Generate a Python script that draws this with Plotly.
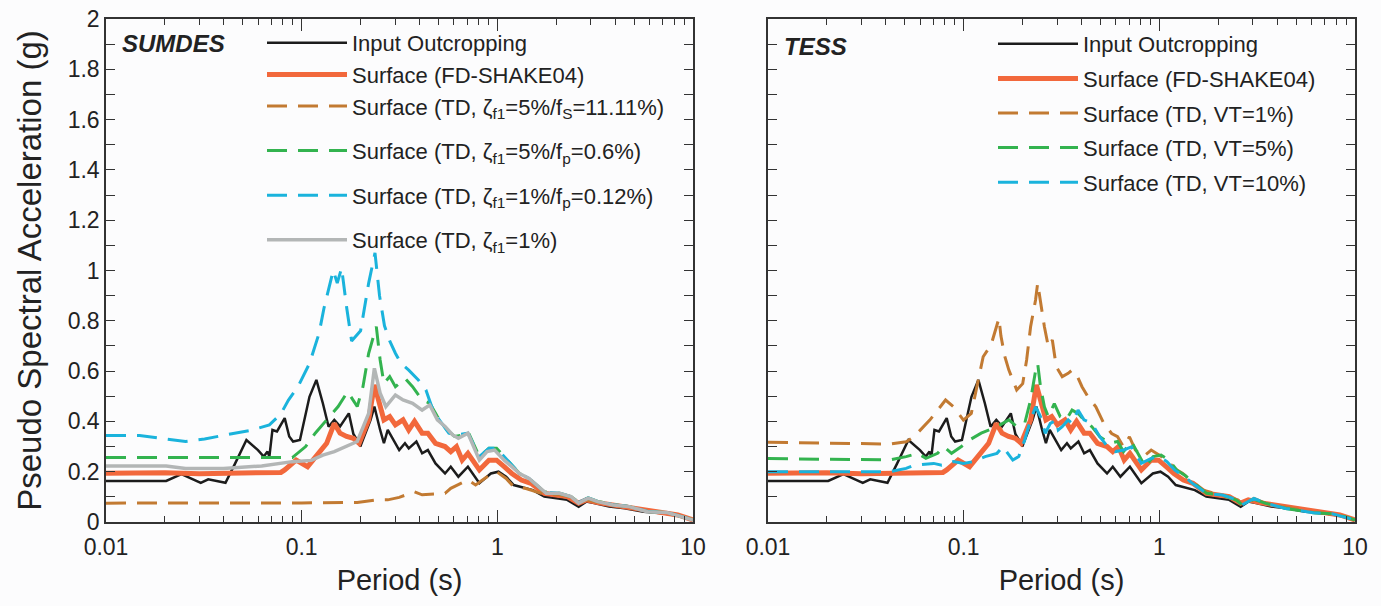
import plotly.graph_objects as go

# ---------------- data (period in s, PSA in g) ----------------
T_input = [0.01, 0.0203, 0.0243, 0.0305, 0.0333, 0.0408, 0.0456, 0.0522, 0.0598, 0.064,
           0.0669, 0.0684, 0.0709, 0.0748, 0.0819, 0.0864, 0.0904, 0.098, 0.1096, 0.1189,
           0.1283, 0.1373, 0.1468, 0.1571, 0.1742, 0.1838, 0.1923, 0.1994, 0.225, 0.2353,
           0.2518, 0.2633, 0.2754, 0.3013, 0.3151, 0.3372, 0.3526, 0.3858, 0.4127, 0.4415,
           0.483, 0.5404, 0.5781, 0.6324, 0.7075, 0.8096, 0.9266, 1.0136, 1.109, 1.213,
           1.388, 1.519, 1.738, 1.989, 2.276, 2.604, 2.848, 3.117, 3.73, 4.465,
           5.59, 7.0, 8.76, 10]
SA_input = [0.163, 0.163, 0.19, 0.156, 0.17, 0.156, 0.231, 0.326, 0.286, 0.26,
            0.28, 0.26, 0.366, 0.36, 0.413, 0.34, 0.32, 0.326, 0.498, 0.565,
            0.472, 0.379, 0.406, 0.38, 0.432, 0.35, 0.325, 0.3, 0.406, 0.459,
            0.366, 0.313, 0.366, 0.313, 0.286, 0.313, 0.293, 0.32, 0.273, 0.286,
            0.233, 0.193, 0.22, 0.18, 0.22, 0.154, 0.193, 0.2, 0.18, 0.147,
            0.134, 0.127, 0.101, 0.095, 0.088, 0.061, 0.081, 0.075, 0.062, 0.055,
            0.041, 0.035, 0.022, 0.01]

T_fd = [0.01, 0.02, 0.03, 0.05, 0.0783, 0.0819, 0.0937, 0.1072, 0.1227, 0.1342,
        0.1468, 0.1571, 0.1696, 0.1838, 0.1967, 0.22, 0.2353, 0.2518, 0.2633, 0.2818,
        0.3013, 0.3296, 0.3526, 0.3773, 0.4127, 0.4415, 0.483, 0.5404, 0.5781, 0.6183,
        0.6614, 0.7075, 0.8096, 0.9061, 0.991, 1.084, 1.186, 1.327, 1.485, 1.738,
        1.989, 2.276, 2.604, 2.848, 3.26, 3.90, 4.465, 5.59, 7.0, 8.37, 10]
SA_fd = [0.194, 0.196, 0.192, 0.195, 0.197, 0.207, 0.246, 0.22, 0.273, 0.313,
         0.392, 0.353, 0.34, 0.333, 0.313, 0.406, 0.545, 0.45, 0.406, 0.419,
         0.386, 0.406, 0.366, 0.4, 0.353, 0.353, 0.313, 0.3, 0.28, 0.3,
         0.246, 0.273, 0.207, 0.246, 0.246, 0.22, 0.193, 0.167, 0.154, 0.114,
         0.108, 0.101, 0.075, 0.088, 0.077, 0.068, 0.062, 0.048, 0.038, 0.028, 0.008]

# SUMDES panel
T_fs = [0.01, 0.05, 0.1, 0.1923, 0.2407, 0.2754, 0.3151, 0.3773, 0.4127, 0.5404,
        0.5781, 0.7075, 0.7742, 0.8858, 0.991, 1.109, 1.213, 1.388, 1.738, 2.08,
        2.38, 2.604, 2.848, 3.26, 3.9, 4.67, 5.85, 7.32, 8.56, 10]
SA_fs = [0.075, 0.075, 0.076, 0.078, 0.088, 0.088, 0.098, 0.12, 0.108, 0.114,
         0.134, 0.167, 0.147, 0.18, 0.2, 0.173, 0.14, 0.134, 0.11, 0.108,
         0.1, 0.076, 0.088, 0.078, 0.068, 0.062, 0.042, 0.038, 0.023, 0.009]

T_fp06 = [0.01, 0.05, 0.0896, 0.1048, 0.1173, 0.1342, 0.1536, 0.1718, 0.1838, 0.1923,
          0.2057, 0.22, 0.2301, 0.2407, 0.2518, 0.2633, 0.2818, 0.3013, 0.3372, 0.3689,
          0.4127, 0.4515, 0.4939, 0.5527, 0.6047, 0.6614, 0.7075, 0.8096, 0.9061, 0.991,
          1.084, 1.186, 1.298, 1.452, 1.738, 2.08, 2.38, 2.604, 2.913, 3.26,
          3.9, 4.67, 5.85, 7.32, 8.56, 10]
SA_fp06 = [0.256, 0.256, 0.256, 0.3, 0.353, 0.406, 0.459, 0.518, 0.485, 0.459,
           0.538, 0.671, 0.724, 0.777, 0.644, 0.551, 0.578, 0.538, 0.571, 0.538,
           0.485, 0.472, 0.419, 0.366, 0.34, 0.346, 0.36, 0.26, 0.293, 0.293,
           0.26, 0.226, 0.193, 0.173, 0.12, 0.114, 0.101, 0.078, 0.096, 0.082,
           0.069, 0.062, 0.042, 0.038, 0.023, 0.009]

T_fp012 = [0.01, 0.01485, 0.0255, 0.0319, 0.0408, 0.0547, 0.0684, 0.0783, 0.0856, 0.0958,
           0.1096, 0.1227, 0.13, 0.145, 0.152, 0.16, 0.17, 0.18, 0.2, 0.22,
           0.237, 0.25, 0.265, 0.2818, 0.3013, 0.3223, 0.3526, 0.3946, 0.4316, 0.4618,
           0.5051, 0.5653, 0.6183, 0.7075, 0.8096, 0.9061, 0.991, 1.084, 1.186, 1.298,
           1.452, 1.738, 2.08, 2.38, 2.604, 2.913, 3.26, 3.9, 4.67, 5.85,
           7.32, 8.56, 10]
SA_fp012 = [0.344, 0.344, 0.32, 0.33, 0.346, 0.364, 0.386, 0.43, 0.485, 0.538,
            0.63, 0.75, 0.85, 1.0, 0.95, 1.01, 0.85, 0.72, 0.76, 0.95,
            1.07, 0.9, 0.78, 0.72, 0.671, 0.63, 0.604, 0.565, 0.525, 0.459,
            0.406, 0.353, 0.346, 0.353, 0.26, 0.293, 0.293, 0.26, 0.226, 0.193,
            0.173, 0.12, 0.114, 0.101, 0.078, 0.096, 0.082, 0.069, 0.062, 0.042,
            0.038, 0.023, 0.009]

T_z1 = [0.01, 0.0203, 0.0255, 0.0399, 0.0625, 0.0896, 0.1121, 0.1283, 0.1468, 0.168,
        0.1923, 0.22, 0.2353, 0.2518, 0.2693, 0.3013, 0.3296, 0.3689, 0.4127, 0.4515,
        0.4939, 0.5404, 0.5912, 0.6324, 0.7075, 0.8096, 0.8858, 0.969, 1.084, 1.186,
        1.298, 1.452, 1.778, 2.08, 2.38, 2.604, 2.913, 3.26, 3.9, 4.67,
        5.85, 7.32, 8.56, 10]
SA_z1 = [0.223, 0.223, 0.213, 0.213, 0.223, 0.24, 0.245, 0.266, 0.28, 0.3,
         0.32, 0.432, 0.611, 0.512, 0.459, 0.505, 0.485, 0.472, 0.445, 0.465,
         0.406, 0.38, 0.346, 0.333, 0.353, 0.246, 0.28, 0.286, 0.246, 0.22,
         0.193, 0.173, 0.114, 0.114, 0.101, 0.075, 0.095, 0.081, 0.068, 0.062,
         0.041, 0.038, 0.022, 0.008]

# TESS panel
T_vt1 = [0.01, 0.02905, 0.0421, 0.0508, 0.0557, 0.0671, 0.0808, 0.0887, 0.0997, 0.1094,
         0.1173, 0.1258, 0.138, 0.1515, 0.155, 0.1624, 0.1702, 0.1867, 0.2003, 0.2098,
         0.2198, 0.233, 0.2389, 0.2469, 0.2586, 0.2709, 0.2839, 0.2974, 0.3189, 0.342,
         0.3582, 0.3754, 0.4025, 0.4316, 0.4737, 0.52, 0.5705, 0.6116, 0.6561, 0.7035,
         0.7544, 0.8277, 0.9085, 0.997, 1.094, 1.201, 1.318, 1.447, 1.663, 1.912,
         2.099, 2.528, 2.649, 3.045, 3.501, 4.217, 4.848, 6.118, 7.72, 8.88, 10]
SA_vt1 = [0.317, 0.314, 0.31, 0.319, 0.339, 0.405, 0.485, 0.458, 0.405, 0.432,
          0.538, 0.657, 0.704, 0.81, 0.74, 0.657, 0.604, 0.525, 0.55, 0.644,
          0.776, 0.883, 0.95, 0.87, 0.776, 0.697, 0.724, 0.617, 0.578, 0.591,
          0.604, 0.591, 0.538, 0.498, 0.458, 0.392, 0.352, 0.339, 0.299, 0.339,
          0.286, 0.26, 0.286, 0.266, 0.246, 0.212, 0.193, 0.166, 0.127, 0.114,
          0.107, 0.087, 0.068, 0.094, 0.074, 0.061, 0.054, 0.038, 0.032, 0.021, 0.008]

T_vt5 = [0.01, 0.0421, 0.0508, 0.0584, 0.0641, 0.0736, 0.079, 0.0867, 0.0974, 0.1069,
         0.1229, 0.148, 0.1702, 0.1867, 0.205, 0.2198, 0.2335, 0.2389, 0.2469, 0.2586,
         0.2709, 0.2906, 0.3115, 0.3341, 0.3582, 0.3842, 0.412, 0.452, 0.4963, 0.5574,
         0.6116, 0.6561, 0.72, 0.7903, 0.8472, 0.93, 1.021, 1.12, 1.229, 1.349,
         1.481, 1.743, 2.099, 2.47, 2.649, 3.045, 3.501, 4.418, 6.118, 7.72, 8.88, 10]
SA_vt5 = [0.252, 0.247, 0.26, 0.273, 0.253, 0.273, 0.3, 0.273, 0.3, 0.326,
          0.353, 0.379, 0.406, 0.379, 0.392, 0.485, 0.604, 0.63, 0.538, 0.458,
          0.419, 0.471, 0.419, 0.406, 0.445, 0.432, 0.406, 0.379, 0.339, 0.313,
          0.32, 0.28, 0.32, 0.26, 0.22, 0.26, 0.266, 0.246, 0.206, 0.186,
          0.16, 0.114, 0.107, 0.087, 0.068, 0.09, 0.074, 0.054, 0.037, 0.032, 0.021, 0.008]

T_vt10 = [0.01, 0.0421, 0.0508, 0.0557, 0.0703, 0.0772, 0.0887, 0.0997, 0.112, 0.1287,
          0.148, 0.1587, 0.1783, 0.1911, 0.205, 0.2198, 0.2335, 0.2469, 0.2611, 0.2773,
          0.2974, 0.3044, 0.3189, 0.342, 0.3582, 0.3842, 0.412, 0.452, 0.4963, 0.5446,
          0.5976, 0.6561, 0.72, 0.8087, 0.9085, 0.997, 1.094, 1.201, 1.349, 1.481,
          1.743, 2.099, 2.47, 2.649, 3.045, 3.501, 4.418, 6.118, 7.72, 8.88, 10]
SA_vt10 = [0.2, 0.2, 0.213, 0.226, 0.233, 0.226, 0.24, 0.233, 0.24, 0.26,
           0.273, 0.3, 0.246, 0.26, 0.326, 0.406, 0.458, 0.419, 0.353, 0.392,
           0.406, 0.366, 0.379, 0.406, 0.392, 0.445, 0.406, 0.392, 0.339, 0.299,
           0.28, 0.286, 0.299, 0.233, 0.253, 0.26, 0.24, 0.206, 0.18, 0.153,
           0.114, 0.107, 0.09, 0.068, 0.094, 0.074, 0.054, 0.037, 0.032, 0.018, 0.008]

x_tickvals = [0.01, 0.1, 1, 10]
x_ticktext = ["0.01", "0.1", "1", "10"]

names_left = ["Input Outcropping", "Surface (FD-SHAKE04)",
              "Surface (TD, ζ<sub>f1</sub>=5%/f<sub>S</sub>=11.11%)",
              "Surface (TD, ζ<sub>f1</sub>=5%/f<sub>p</sub>=0.6%)",
              "Surface (TD, ζ<sub>f1</sub>=1%/f<sub>p</sub>=0.12%)",
              "Surface (TD, ζ<sub>f1</sub>=1%)"]
names_right = ["Input Outcropping", "Surface (FD-SHAKE04)", "Surface (TD, VT=1%)",
               "Surface (TD, VT=5%)", "Surface (TD, VT=10%)"]

# ---------------- styling ----------------
C_BLACK = "#1c1c1c"
C_ORANGE = "#f2683c"
C_BROWN = "#c27a32"
C_GREEN = "#33b34f"
C_CYAN = "#1ab3dc"
C_GRAY = "#b3b6b6"
DASH = "20px,11px"
FONT = "Liberation Sans, Arial, sans-serif"
BG = "#fcfcfd"

fig = go.Figure()

def add(x, y, name, color, width, dash, xa, ya, leg, grp):
    fig.add_trace(go.Scatter(x=x, y=y, name=name, mode="lines",
                             line=dict(color=color, width=width, dash=dash),
                             xaxis=xa, yaxis=ya, legend=leg, legendgroup=grp))

left_series = [(T_input, SA_input, C_BLACK, 2.5, "solid"),
               (T_fd, SA_fd, C_ORANGE, 5, "solid"),
               (T_fs, SA_fs, C_BROWN, 3, DASH),
               (T_fp06, SA_fp06, C_GREEN, 3, DASH),
               (T_fp012, SA_fp012, C_CYAN, 3, DASH),
               (T_z1, SA_z1, C_GRAY, 3.5, "solid")]
left_groups = ["La", "La", "La", "L3", "L4", "L5"]
for i, (x, y, c, w, d) in enumerate(left_series):
    add(x, y, names_left[i], c, w, d, "x", "y", "legend", left_groups[i])

right_series = [(T_input, SA_input, C_BLACK, 2.5, "solid"),
                (T_fd, SA_fd, C_ORANGE, 5, "solid"),
                (T_vt1, SA_vt1, C_BROWN, 3, DASH),
                (T_vt5, SA_vt5, C_GREEN, 3, DASH),
                (T_vt10, SA_vt10, C_CYAN, 3, DASH)]
for i, (x, y, c, w, d) in enumerate(right_series):
    add(x, y, names_right[i], c, w, d, "x2", "y2", "legend2", "R%d" % i)

W, H = 1381, 606
xd1 = [106 / W, 693 / W]
xd2 = [768 / W, 1355 / W]
yd = [1 - 522 / H, 1 - 19 / H]

def xaxis(dom, anchor):
    return dict(type="log", range=[-2, 1], domain=dom, anchor=anchor, automargin=False,
                tickvals=x_tickvals, ticktext=x_ticktext,
                ticks="inside", ticklen=12, tickwidth=1.3, tickcolor="#333",
                minor=dict(ticks="inside", ticklen=6, tickwidth=1.2, tickcolor="#333",
                           dtick="D1", showgrid=False),
                showline=True, linecolor="#333", linewidth=1.5, mirror="ticks",
                showgrid=False, zeroline=False, ticklabelstandoff=4,
                tickfont=dict(family=FONT, size=23, color="#222"),
                title=dict(text="Period (s)", font=dict(family=FONT, size=29, color="#222"),
                           standoff=10))

def yaxis(anchor, labels):
    return dict(range=[0, 2], domain=yd, anchor=anchor, dtick=0.2, automargin=False,
                ticks="inside", ticklen=9, tickwidth=1.3, tickcolor="#333",
                minor=dict(ticks="inside", ticklen=9, tickwidth=1.3, tickcolor="#333",
                           dtick=0.1, showgrid=False),
                showline=True, linecolor="#333", linewidth=1.5, mirror="ticks",
                showgrid=False, zeroline=False, showticklabels=labels,
                tickfont=dict(family=FONT, size=23, color="#222"),
                title=dict(text="Pseudo Spectral Acceleration (g)" if labels else "",
                           font=dict(family=FONT, size=33, color="#222"), standoff=16))

def legend(x, y, gap):
    return dict(x=x, y=y, bgcolor="rgba(0,0,0,0)", borderwidth=0, xanchor="left",
                yanchor="top", font=dict(family=FONT, size=22, color="#222"), itemwidth=80,
                tracegroupgap=gap, itemclick=False, itemdoubleclick=False)

fig.update_layout(
    template="none",
    width=W, height=H, margin=dict(l=0, r=0, t=0, b=0),
    paper_bgcolor=BG, plot_bgcolor=BG, showlegend=True,
    xaxis=xaxis(xd1, "y"), yaxis=yaxis("x", True),
    xaxis2=xaxis(xd2, "y2"), yaxis2=yaxis("x2", False),
    legend=legend(262 / W, 1 - 22 / H, 13),
    legend2=legend(993 / W, 1 - 23 / H, 3),
    annotations=[
        dict(text="<b><i>SUMDES</i></b>", xref="paper", yref="paper", x=120 / W, y=1 - 44 / H,
             xanchor="left", yanchor="middle", showarrow=False,
             font=dict(family=FONT, size=24, color="#222")),
        dict(text="<b><i>TESS</i></b>", xref="paper", yref="paper", x=782 / W, y=1 - 46 / H,
             xanchor="left", yanchor="middle", showarrow=False,
             font=dict(family=FONT, size=24, color="#222")),
    ],
)

fig.write_html("out.html")
